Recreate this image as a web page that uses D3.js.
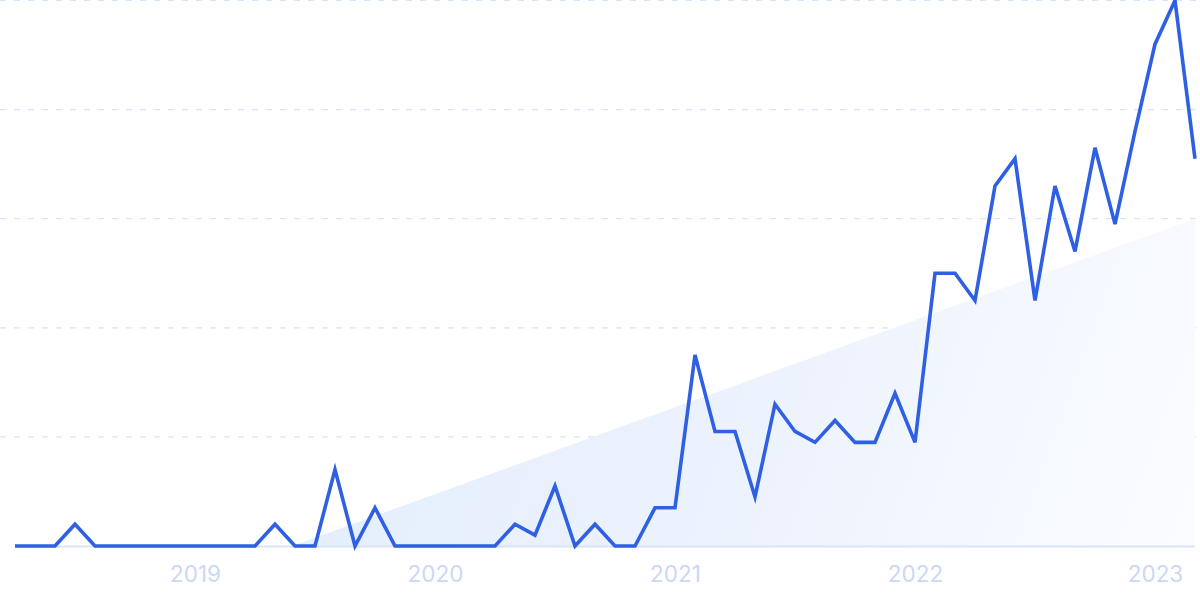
<!DOCTYPE html>
<html>
<head>
<meta charset="utf-8">
<script src="https://cdn.jsdelivr.net/npm/d3@7"></script>
<style>
  html, body { margin: 0; padding: 0; background: #ffffff; }
  svg { display: block; }
</style>
</head>
<body>
<svg id="chart" width="1200" height="599"></svg>
<script>
// ---- data ----
const months = [
  "2018-04","2018-05","2018-06","2018-07","2018-08","2018-09","2018-10","2018-11","2018-12",
  "2019-01","2019-02","2019-03","2019-04","2019-05","2019-06","2019-07","2019-08","2019-09","2019-10","2019-11","2019-12",
  "2020-01","2020-02","2020-03","2020-04","2020-05","2020-06","2020-07","2020-08","2020-09","2020-10","2020-11","2020-12",
  "2021-01","2021-02","2021-03","2021-04","2021-05","2021-06","2021-07","2021-08","2021-09","2021-10","2021-11","2021-12",
  "2022-01","2022-02","2022-03","2022-04","2022-05","2022-06","2022-07","2022-08","2022-09","2022-10","2022-11","2022-12",
  "2023-01","2023-02","2023-03"
];
const values = [
  0, 0, 0, 4, 0, 0, 0, 0, 0,
  0, 0, 0, 0, 4, 0, 0, 14, 0, 7, 0, 0,
  0, 0, 0, 0, 4, 2, 11, 0, 4, 0, 0, 7,
  7, 35, 21, 21, 9, 26, 21, 19, 23, 19, 19, 28,
  19, 50, 50, 45, 66, 71, 45, 66, 54, 73, 59, 76,
  92, 100, 71
];
const tickMonths = ["2019-01","2020-01","2021-01","2022-01","2023-01"];
const tickLabels = ["2019","2020","2021","2022","2023"];
const gridValues = [20, 40, 60, 80, 100];
// trend line (fractional month index, value)
const trendIndex = [13.85, 59];
const trendValue = [0, 60];

// ---- chart ----
const svg = d3.select("#chart");
const W = 1200, H = 599;

const x = d3.scalePoint().domain(months).range([15, 1195]);
const xi = d3.scaleLinear().domain([0, months.length - 1]).range([15, 1195]);
const y = d3.scaleLinear().domain([0, 100]).range([546, 0.5]);

const defs = svg.append("defs");
const grad = defs.append("linearGradient")
  .attr("id", "trendGrad")
  .attr("gradientUnits", "userSpaceOnUse")
  .attr("x1", xi(trendIndex[0])).attr("y1", y(trendValue[1]))
  .attr("x2", xi(trendIndex[1])).attr("y2", y(0));
grad.append("stop").attr("offset", "0%").attr("stop-color", "#e2edfc");
grad.append("stop").attr("offset", "55%").attr("stop-color", "#edf3fd");
grad.append("stop").attr("offset", "100%").attr("stop-color", "#fbfcff");

// grid lines
svg.append("g").selectAll("line").data(gridValues).join("line")
  .attr("x1", 0).attr("x2", W)
  .attr("y1", d => y(d)).attr("y2", d => y(d))
  .attr("stroke", "#d6e3fc").attr("stroke-width", 1.2)
  .attr("stroke-dasharray", "6,8");

// trend area
const trendPts = [
  [trendIndex[0], trendValue[0]],
  [trendIndex[1], trendValue[1]],
  [trendIndex[1], 0]
];
svg.append("path")
  .attr("d", d3.line().x(d => xi(d[0])).y(d => y(d[1]))(trendPts) + "Z")
  .attr("fill", "url(#trendGrad)");

// baseline
svg.append("line")
  .attr("x1", x(months[0])).attr("x2", x(months[months.length - 1]))
  .attr("y1", y(0) + 0.5).attr("y2", y(0) + 0.5)
  .attr("stroke", "#d9e4fb").attr("stroke-width", 2);

// x axis labels
const xAxis = d3.axisBottom(x).tickValues(tickMonths)
  .tickFormat((d, i) => tickLabels[i]).tickSize(0).tickPadding(0);
const gx = svg.append("g").attr("transform", "translate(0,581.5)").call(xAxis);
gx.select(".domain").remove();
gx.selectAll("text")
  .attr("y", 0)
  .attr("dy", "0")
  .attr("fill", "#cbd7f6")
  .style("font-family", "Inter, 'Noto Sans', sans-serif")
  .style("font-size", "22.5px");

// main line
svg.append("path")
  .datum(values)
  .attr("d", d3.line().x((d, i) => x(months[i])).y(d => y(d)))
  .attr("fill", "none")
  .attr("stroke", "#2f60e4")
  .attr("stroke-width", 3.6)
  .attr("stroke-linejoin", "miter")
  .attr("stroke-linecap", "butt");
</script>
</body>
</html>
